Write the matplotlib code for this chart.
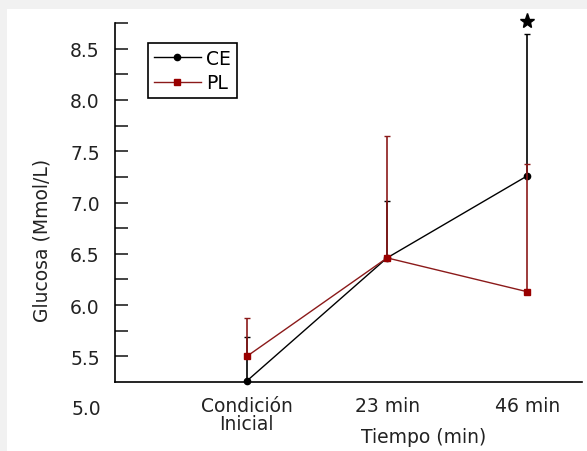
import matplotlib
matplotlib.use('Agg')
import matplotlib.pyplot as plt
from matplotlib.patches import Rectangle
from matplotlib.lines import Line2D
import numpy as np

# data
tiempos = ['Condición\nInicial', '23 min', '46 min']
ce_mean = [5.26, 6.46, 7.26]
ce_err_up = [0.43, 0.55, 1.38]
pl_mean = [5.50, 6.46, 6.13]
pl_err_up = [0.37, 1.19, 1.25]
star_value = 8.77

x = np.arange(1, len(tiempos) + 1)
RED = '#8b1a1a'
FS = 13.5
TXT = '#222222'

fig = plt.figure(figsize=(5.87, 4.52), dpi=100)
fig.patch.set_facecolor('#f1f1f1')
# white panel (gray band only at top and left in the reference)
fig.patches.append(Rectangle((7 / 587, 0), 1, (452 - 10) / 452,
                             transform=fig.transFigure, facecolor='white',
                             edgecolor='none', zorder=-10))

ax = fig.add_axes([115 / 587, (452 - 383) / 452, 467 / 587, 359 / 452])
ax.set_facecolor('none')
ax.set_zorder(5)

ax.errorbar(x, ce_mean, yerr=[np.zeros(3), ce_err_up], color='black',
            marker='o', markersize=4.5, lw=1, elinewidth=1.2, capsize=2.2,
            clip_on=False, zorder=3)
ax.errorbar(x, pl_mean, yerr=[np.zeros(3), pl_err_up], color=RED,
            marker='s', markersize=5, mfc='#990000', mec='#990000', lw=1,
            elinewidth=1.2, capsize=2.2, clip_on=False, zorder=4)

# significance mark
ax.plot([x[2]], [star_value], marker='*', color='black', markersize=11,
        clip_on=False, zorder=5)

ax.set_xlim(0.06, 3.39)
ax.set_ylim(5.25, 8.75)

for s in ['top', 'right']:
    ax.spines[s].set_visible(False)
for s in ['left', 'bottom']:
    ax.spines[s].set_linewidth(1.2)

ax.set_yticks(np.arange(5.5, 8.51, 0.5))
ax.set_yticklabels(['%.1f' % v for v in np.arange(5.5, 8.51, 0.5)])
ax.set_yticks(np.arange(5.75, 8.76, 0.5), minor=True)
ax.tick_params(axis='y', which='both', direction='in', length=9, width=1.2,
               pad=11, labelsize=FS, colors=TXT)
ax.text(-0.03, 4.99, '5.0', transform=ax.get_yaxis_transform(),
        ha='right', va='center', fontsize=FS, color=TXT, clip_on=False)

ax.set_xticks(x)
ax.set_xticklabels(tiempos, fontsize=FS, linespacing=0.95, color=TXT)
ax.tick_params(axis='x', length=0, pad=10)

ax.set_xlabel('Tiempo (min)', fontsize=FS, color=TXT)
ax.xaxis.set_label_coords(0.66, -0.125)
ax.set_ylabel('Glucosa (Mmol/L)', fontsize=FS, color=TXT)
ax.yaxis.set_label_coords(-0.135, 0.396)

handles = [Line2D([], [], color='black', marker='o', markersize=4.5, lw=1),
           Line2D([], [], color=RED, marker='s', markersize=5,
                  mfc='#990000', mec='#990000', lw=1)]
leg = ax.legend(handles, ['CE', 'PL'], loc='upper left',
                bbox_to_anchor=(0.071, 0.944), borderaxespad=0,
                fancybox=False, edgecolor='black', framealpha=1,
                fontsize=FS, handlelength=2.5, handletextpad=0.3,
                borderpad=0.3, labelspacing=0.3)
leg.get_frame().set_linewidth(1.2)

fig.savefig('out.png', dpi=100, facecolor=fig.get_facecolor())
